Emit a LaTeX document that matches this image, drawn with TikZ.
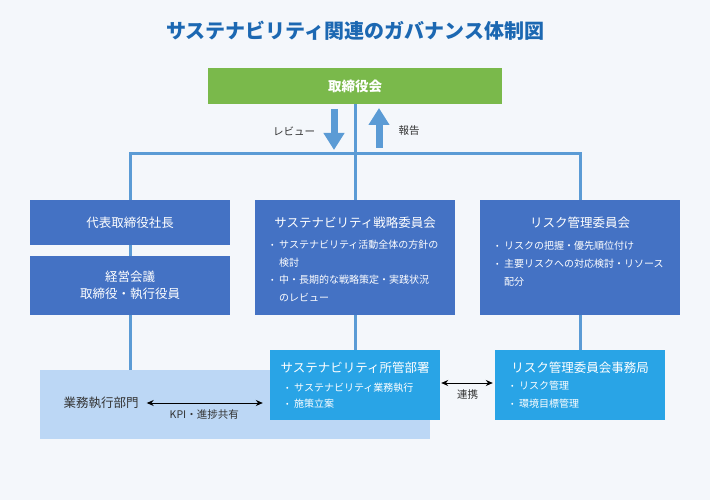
\documentclass[tikz,border=0pt]{standalone}
\usepackage{fontspec}
\setmainfont{Noto Sans CJK JP}
\usetikzlibrary{arrows.meta}
\definecolor{bgcol}{HTML}{F4F7FB}
\definecolor{titleblue}{HTML}{1C68B2}
\definecolor{boardgreen}{HTML}{7AB94B}
\definecolor{boxblue}{HTML}{4472C4}
\definecolor{officeblue}{HTML}{29A4E6}
\definecolor{opsblue}{HTML}{BCD7F5}
\definecolor{linkblue}{HTML}{5B9BD5}
\definecolor{textgray}{HTML}{333333}
\newcommand\bul{\makebox[8pt][l]{\raisebox{1pt}{\fontsize{7.5}{7.5}\selectfont •}}}
\tikzset{
  box/.style={fill=boxblue, text=white, inner sep=0pt, minimum width=200pt},
  office/.style={fill=officeblue, inner sep=0pt, minimum width=170pt, minimum height=70pt},
  boxtitle/.style={text=white, inner sep=0pt, font=\fontsize{12.5}{17}\selectfont},
  item/.style={text=white, inner sep=0pt, anchor=base west, align=left,
    font=\fontsize{10}{18}\selectfont},
  label/.style={text=textgray, inner sep=0pt, font=\fontsize{10.5}{12}\selectfont},
  link/.style={draw=linkblue, line width=3pt},
  bigarrow/.style={draw=linkblue, line width=7pt,
    -{Triangle[width=20pt,length=17pt]}},
  dbl/.style={draw=black, line width=1pt, {Stealth[length=7pt,width=6pt]}-{Stealth[length=7pt,width=6pt]}}
}
\begin{document}
\begin{tikzpicture}[x=1pt,y=-1pt]
  \fill[bgcol] (0,0) rectangle (710,500);
  \useasboundingbox (0,0) rectangle (710,500);

  \node[font=\fontsize{20}{24}\bfseries\selectfont, text=titleblue] (title) at (355,31)
    {サステナビリティ関連のガバナンス体制図};

  % board and the three main bodies
  \node[fill=boardgreen, text=white, inner sep=0pt, minimum width=294pt, minimum height=36pt,
    font=\fontsize{13.5}{16}\bfseries\selectfont] (board) at (355,86) {取締役会};
  \node[box, minimum height=45pt, font=\fontsize{12.5}{17}\selectfont] (ceo) at (130,222.5) {代表取締役社長};
  \node[box, minimum height=59pt, align=center, font=\fontsize{12.5}{17}\selectfont] (mgmt) at (130,285.5)
    {経営会議\\取締役・執行役員};
  \node[box, minimum height=115pt] (sc) at (355,257.5) {};
  \node[box, minimum height=115pt] (rc) at (580,257.5) {};

  \coordinate (bus) at (355,154);
  \draw[link] (board.south) -- (sc.north);
  \draw[link] (ceo.north) |- (bus) -| (rc.north);
  \draw[link] (ceo.south) -- (mgmt.north);

  \coordinate (rv1) at (334,109);
  \coordinate (rv2) at (334,150);
  \coordinate (rp1) at (379,148);
  \coordinate (rp2) at (379,108);
  \draw[bigarrow] (rv1) -- (rv2);
  \draw[bigarrow] (rp1) -- (rp2);
  \node[label] (review) at (294,131) {レビュー};
  \node[label] (report) at (409,131) {報告};

  % committee texts
  \node[boxtitle] (sctitle) at (355,223) {サステナビリティ戦略委員会};
  \node[item] (sc1) at (271,266) {\bul サステナビリティ活動全体の方針の\\\hspace*{8pt}検討};
  \node[item] (sc2) at (271,301) {\bul 中・長期的な戦略策定・実践状況\\\hspace*{8pt}のレビュー};
  \node[boxtitle] (rctitle) at (580,223) {リスク管理委員会};
  \node[item] (rc1) at (496,249) {\bul リスクの把握・優先順位付け};
  \node[item] (rc2) at (496,285) {\bul 主要リスクへの対応検討・リソース\\\hspace*{8pt}配分};

  % lower level
  \node[fill=opsblue, inner sep=0pt, minimum width=390pt, minimum height=69pt] (ops) at (235,404.5) {};
  \draw[link] (mgmt.south) -- (mgmt.south |- ops.north);
  \node[office] (so) at (355,385) {};
  \node[office] (ro) at (580,385) {};
  \draw[link] (sc.south) -- (so.north);
  \draw[link] (rc.south) -- (ro.north);

  \node[text=textgray, inner sep=0pt, font=\fontsize{12.5}{15}\selectfont] (dept) at (101,403) {業務執行部門};
  \node[boxtitle] (sotitle) at (355,368) {サステナビリティ所管部署};
  \node[item] (so1) at (286,391) {\bul サステナビリティ業務執行};
  \node[item] (so2) at (286,407) {\bul 施策立案};
  \node[boxtitle] (rotitle) at (580,368) {リスク管理委員会事務局};
  \node[item] (ro1) at (511,389) {\bul リスク管理};
  \node[item] (ro2) at (511,407) {\bul 環境目標管理};

  \draw[dbl, shorten <=8pt, shorten >=7pt] (dept.east) -- (dept.east -| so.west)
    node[label, midway, below=6pt] (kpi) {KPI・進捗共有};
  \draw[dbl, shorten <=1pt, shorten >=2pt] (so.east |- 0,383) -- (ro.west |- 0,383)
    node[label, midway, below=6pt] (collab) {連携};
\end{tikzpicture}
\end{document}
